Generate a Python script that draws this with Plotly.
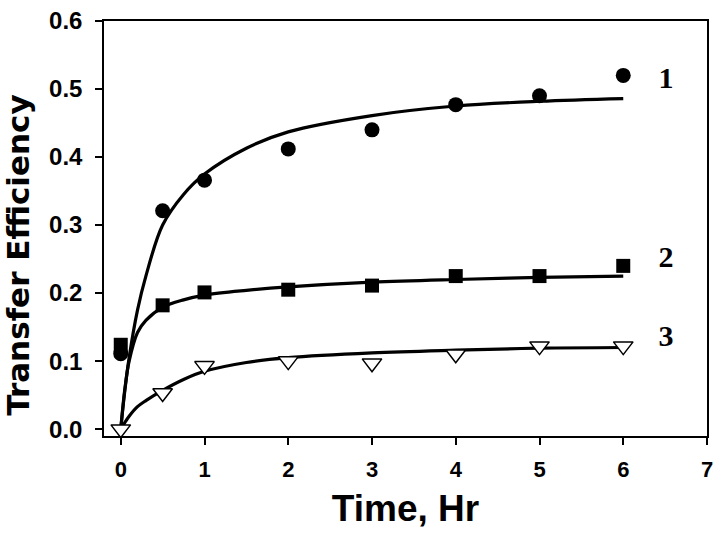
import plotly.graph_objects as go

# measured data points
time_pts = [0, 0.5, 1, 2, 3, 4, 5, 6]
series1 = [0.111, 0.321, 0.366, 0.412, 0.440, 0.477, 0.490, 0.520]
series2 = [0.124, 0.182, 0.201, 0.205, 0.211, 0.225, 0.225, 0.240]
series3 = [0.000, 0.053, 0.093, 0.100, 0.097, 0.110, 0.122, 0.122]

# fitted curves
fit_x = [0, 0.05, 0.1, 0.2, 0.3, 0.5, 0.75, 1, 1.5, 2, 3, 4, 5, 6]
fit1_y = [0, 0.058, 0.105, 0.175, 0.225, 0.300, 0.345, 0.375, 0.413, 0.437, 0.461, 0.475, 0.482, 0.486]
fit2_y = [0, 0.060, 0.100, 0.142, 0.160, 0.179, 0.190, 0.197, 0.204, 0.209, 0.216, 0.220, 0.223, 0.225]
fit3_y = [0, 0.010, 0.019, 0.033, 0.042, 0.057, 0.073, 0.085, 0.098, 0.105, 0.112, 0.116, 0.119, 0.120]

label_text = ["1", "2", "3"]
label_x = [6.51, 6.51, 6.51]
label_y = [0.513, 0.249, 0.133]

x_ticks = [0, 1, 2, 3, 4, 5, 6, 7]
y_ticks = [0.0, 0.1, 0.2, 0.3, 0.4, 0.5, 0.6]

fig = go.Figure()
for fy in [fit1_y, fit2_y, fit3_y]:
    fig.add_trace(go.Scatter(x=fit_x, y=fy, mode="lines",
                             line=dict(color="black", width=3.2, shape="spline", smoothing=1.0),
                             showlegend=False, hoverinfo="skip"))

fig.add_trace(go.Scatter(x=time_pts, y=series1, mode="markers",
                         marker=dict(symbol="circle", size=15, color="black"),
                         showlegend=False))
fig.add_trace(go.Scatter(x=time_pts, y=series2, mode="markers",
                         marker=dict(symbol="square", size=14, color="black"),
                         showlegend=False))
fig.add_trace(go.Scatter(x=time_pts, y=series3, mode="markers",
                         marker=dict(symbol="triangle-down", size=17, color="white",
                                     line=dict(color="black", width=1.5)),
                         showlegend=False))

fig.add_trace(go.Scatter(x=label_x, y=label_y, mode="text", text=label_text,
                         textfont=dict(family="Liberation Serif, Times New Roman, serif",
                                       size=30, color="black", weight="bold"),
                         showlegend=False, hoverinfo="skip"))

sans = "Liberation Sans, Arial, sans-serif"

fig.update_layout(
    width=720, height=538,
    margin=dict(l=104, r=7, t=14, b=102),
    plot_bgcolor="white", paper_bgcolor="white",
    xaxis=dict(range=[-0.2, 7], tickvals=x_ticks, ticks="outside", ticklen=7, tickwidth=1.5,
               tickcolor="black", showline=True, linecolor="black", linewidth=1.5, mirror=True,
               showgrid=False, zeroline=False, ticklabelstandoff=6,
               tickfont=dict(family=sans, size=22, color="black", weight="bold"),
               title=dict(text="Time, Hr", standoff=14,
                          font=dict(family=sans, size=37, color="black", weight="bold"))),
    yaxis=dict(range=[-0.0101, 0.6], tickvals=y_ticks, tickformat=".1f", ticks="outside", ticklen=7,
               tickwidth=1.5, tickcolor="black", showline=True, linecolor="black", linewidth=1.5,
               mirror=True, showgrid=False, zeroline=False, ticklabelstandoff=8,
               tickfont=dict(family=sans, size=24, color="black", weight="bold")),
    annotations=[dict(text="Transfer Efficiency", textangle=-90, xref="paper", yref="paper",
                      x=-0.143, y=0.436, xanchor="center", yanchor="middle", showarrow=False,
                      font=dict(family="DejaVu Sans, sans-serif", size=31, color="black",
                                weight="bold"))],
)

fig.write_html("out.html", config={"displayModeBar": False},
               post_script="document.body.style.margin='0';")
